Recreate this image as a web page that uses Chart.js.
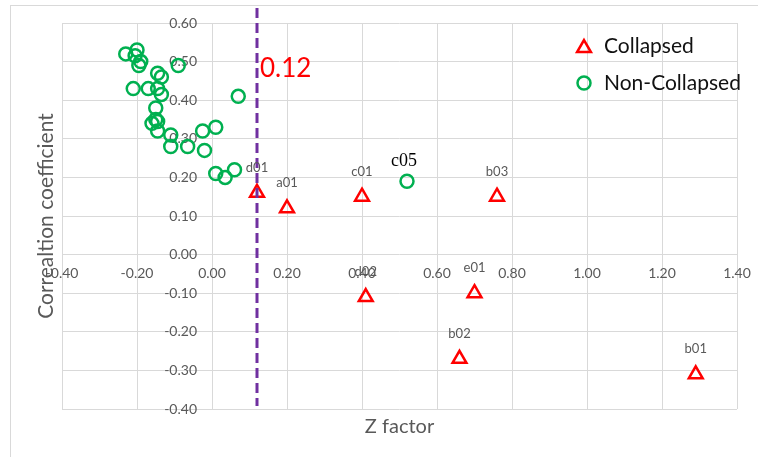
<!DOCTYPE html>
<html>
<head>
<meta charset="utf-8">
<script src="https://cdn.jsdelivr.net/npm/chart.js@4/dist/chart.umd.min.js"></script>
<style>
  html, body { margin: 0; padding: 0; background: #ffffff; }
  #wrap { width: 758px; height: 457px; position: relative; }
</style>
</head>
<body>
<div id="wrap"><canvas id="chart"></canvas></div>
<script>
// Collapsed samples: name, Z factor, correlation coefficient
const collapsedNames = ['d01', 'a01', 'c01', 'b03', 'd02', 'e01', 'b02', 'b01'];
const collapsedZ = [0.12, 0.20, 0.40, 0.76, 0.41, 0.70, 0.66, 1.29];
const collapsedR = [0.16, 0.12, 0.15, 0.15, -0.11, -0.10, -0.27, -0.31];

// Non-collapsed samples (only c05 carries a label)
const nonCollapsedZ = [-0.23, -0.20, -0.205, -0.19, -0.195, -0.09, -0.145, -0.135, -0.21, -0.17,
  -0.145, -0.135, 0.07, -0.15, -0.15, -0.16, -0.145, -0.145, -0.11, -0.11,
  -0.065, -0.025, 0.01, -0.02, 0.01, 0.035, 0.06, 0.52];
const nonCollapsedR = [0.52, 0.53, 0.515, 0.50, 0.49, 0.49, 0.47, 0.46, 0.43, 0.43,
  0.43, 0.415, 0.41, 0.38, 0.35, 0.34, 0.345, 0.32, 0.31, 0.28,
  0.28, 0.32, 0.33, 0.27, 0.21, 0.20, 0.22, 0.19];
const nonCollapsedNames = ['', '', '', '', '', '', '', '', '', '',
  '', '', '', '', '', '', '', '', '', '',
  '', '', '', '', '', '', '', 'c05'];

// Threshold on the Z factor
const zThreshold = 0.12;

// Axis ticks
const xTicks = [-0.40, -0.20, 0.00, 0.20, 0.40, 0.60, 0.80, 1.00, 1.20, 1.40];
const yTicks = [-0.40, -0.30, -0.20, -0.10, 0.00, 0.10, 0.20, 0.30, 0.40, 0.50, 0.60];

const RED = '#FF0000';
const GREEN = '#00B050';
const GRID = '#D9D9D9';
const AXIS_TEXT = '#595959';
const SANS = 'Lato, "Liberation Sans", sans-serif';

const fmt = v => (Math.abs(v) < 1e-9 ? 0 : v).toFixed(2);
const setTicks = list => scale => { scale.ticks = list.map(v => ({ value: v })); };
const noEdgePadding = scale => {
  scale.paddingLeft = 0; scale.paddingRight = 0;
  scale.paddingTop = 0; scale.paddingBottom = 0;
};

const points = (xs, ys) => xs.map((x, i) => ({ x: x, y: ys[i] }));

// Chart frame, threshold line, point labels and legend
const decorations = {
  id: 'decorations',
  beforeDraw(chart) {
    const ctx = chart.ctx;
    ctx.save();
    ctx.fillStyle = '#ffffff';
    ctx.fillRect(0, 0, chart.width, chart.height);
    ctx.strokeStyle = GRID;
    ctx.lineWidth = 1;
    ctx.strokeRect(10.5, 5.5, chart.width + 20, chart.height + 20);
    ctx.restore();
  },
  afterDatasetsDraw(chart) {
    const ctx = chart.ctx;
    const xs = chart.scales.x;
    const area = chart.chartArea;

    // dashed threshold line
    const lx = xs.getPixelForValue(zThreshold);
    ctx.save();
    ctx.strokeStyle = '#7030A0';
    ctx.lineWidth = 3;
    ctx.setLineDash([10, 5]);
    ctx.beginPath();
    ctx.moveTo(lx, 8);
    ctx.lineTo(lx, area.bottom - 3);
    ctx.stroke();
    ctx.setLineDash([]);

    ctx.fillStyle = RED;
    ctx.font = '26px ' + SANS;
    ctx.textAlign = 'left';
    ctx.textBaseline = 'alphabetic';
    ctx.fillText(zThreshold.toFixed(2), lx + 3, 77);

    // sample names above the collapsed points
    ctx.font = '13px ' + SANS;
    ctx.fillStyle = AXIS_TEXT;
    ctx.textAlign = 'center';
    ctx.textBaseline = 'middle';
    chart.getDatasetMeta(0).data.forEach((pt, i) => {
      ctx.fillText(collapsedNames[i], pt.x, pt.y - 25);
    });

    // named non-collapsed sample
    ctx.font = '18px "Liberation Serif", "Times New Roman", serif';
    ctx.fillStyle = '#000000';
    chart.getDatasetMeta(1).data.forEach((pt, i) => {
      if (nonCollapsedNames[i]) ctx.fillText(nonCollapsedNames[i], pt.x - 3, pt.y - 20);
    });

    // legend
    const items = [
      { text: 'Collapsed', y: 46, style: 'triangle', color: RED },
      { text: 'Non-Collapsed', y: 83, style: 'circle', color: GREEN }
    ];
    items.forEach(it => {
      const cx = 584;
      ctx.strokeStyle = it.color;
      ctx.lineWidth = 2.5;
      ctx.beginPath();
      if (it.style === 'triangle') {
        const r = 8, cy = it.y + r / 4;
        ctx.moveTo(cx, cy - r);
        ctx.lineTo(cx + r * Math.sin(2 * Math.PI / 3), cy - r * Math.cos(2 * Math.PI / 3));
        ctx.lineTo(cx + r * Math.sin(4 * Math.PI / 3), cy - r * Math.cos(4 * Math.PI / 3));
        ctx.closePath();
      } else {
        ctx.arc(cx, it.y, 6.5, 0, Math.PI * 2);
      }
      ctx.stroke();
      ctx.fillStyle = '#111111';
      ctx.font = '21px ' + SANS;
      ctx.textAlign = 'left';
      ctx.textBaseline = 'middle';
      ctx.fillText(it.text, 604, it.y);
    });
    ctx.restore();
  }
};

new Chart(document.getElementById('chart'), {
  type: 'scatter',
  data: {
    datasets: [
      {
        label: 'Collapsed',
        data: points(collapsedZ, collapsedR),
        pointStyle: 'triangle',
        pointRadius: 8,
        pointHoverRadius: 8,
        borderWidth: 2.5,
        borderColor: RED,
        backgroundColor: 'rgba(0,0,0,0)',
        xAxisID: 'x',
        yAxisID: 'y'
      },
      {
        label: 'Non-Collapsed',
        data: points(nonCollapsedZ, nonCollapsedR),
        pointStyle: 'circle',
        pointRadius: 6.5,
        pointHoverRadius: 6.5,
        borderWidth: 2.5,
        borderColor: GREEN,
        backgroundColor: 'rgba(0,0,0,0)',
        xAxisID: 'x',
        yAxisID: 'y'
      }
    ]
  },
  options: {
    responsive: true,
    maintainAspectRatio: false,
    animation: false,
    events: [],
    layout: { padding: { left: 0, top: 23, right: 21, bottom: 0 } },
    plugins: {
      legend: { display: false },
      tooltip: { enabled: false }
    },
    scales: {
      x: {
        type: 'linear',
        position: 'bottom',
        min: -0.4, max: 1.4,
        afterBuildTicks: setTicks(xTicks),
        afterFit: s => { noEdgePadding(s); s.height = 48; },
        grid: { color: GRID, lineWidth: 1, drawTicks: false },
        border: { display: false },
        ticks: { display: false },
        title: {
          display: true, text: 'Z factor', color: AXIS_TEXT,
          font: { family: SANS, size: 20 },
          padding: { top: 0, bottom: 18 }
        }
      },
      y: {
        type: 'linear',
        position: 'left',
        min: -0.4, max: 0.6,
        afterBuildTicks: setTicks(yTicks),
        afterFit: s => { noEdgePadding(s); s.width = 62; },
        grid: { color: GRID, lineWidth: 1, drawTicks: false },
        border: { display: false },
        ticks: { display: false },
        title: {
          display: true, text: 'Correaltion coefficient', color: AXIS_TEXT,
          font: { family: SANS, size: 21 },
          padding: { top: 34, bottom: 0 }
        }
      },
      x2: {
        type: 'linear',
        axis: 'x',
        position: { y: 0 },
        min: -0.4, max: 1.4,
        afterBuildTicks: setTicks(xTicks),
        afterFit: noEdgePadding,
        grid: { display: false, drawTicks: false },
        border: { display: false },
        ticks: {
          color: AXIS_TEXT, font: { family: SANS, size: 14 },
          padding: 10, maxRotation: 0, autoSkip: false, callback: v => fmt(v)
        }
      },
      y2: {
        type: 'linear',
        axis: 'y',
        // value labels sit a little to the left of the zero line
        position: { x: -0.04 },
        min: -0.4, max: 0.6,
        afterBuildTicks: setTicks(yTicks),
        afterFit: noEdgePadding,
        grid: { display: false, drawTicks: false },
        border: { display: false },
        ticks: {
          color: AXIS_TEXT, font: { family: SANS, size: 14 },
          autoSkip: false, callback: v => fmt(v)
        }
      }
    }
  },
  plugins: [decorations]
});
</script>
</body>
</html>
